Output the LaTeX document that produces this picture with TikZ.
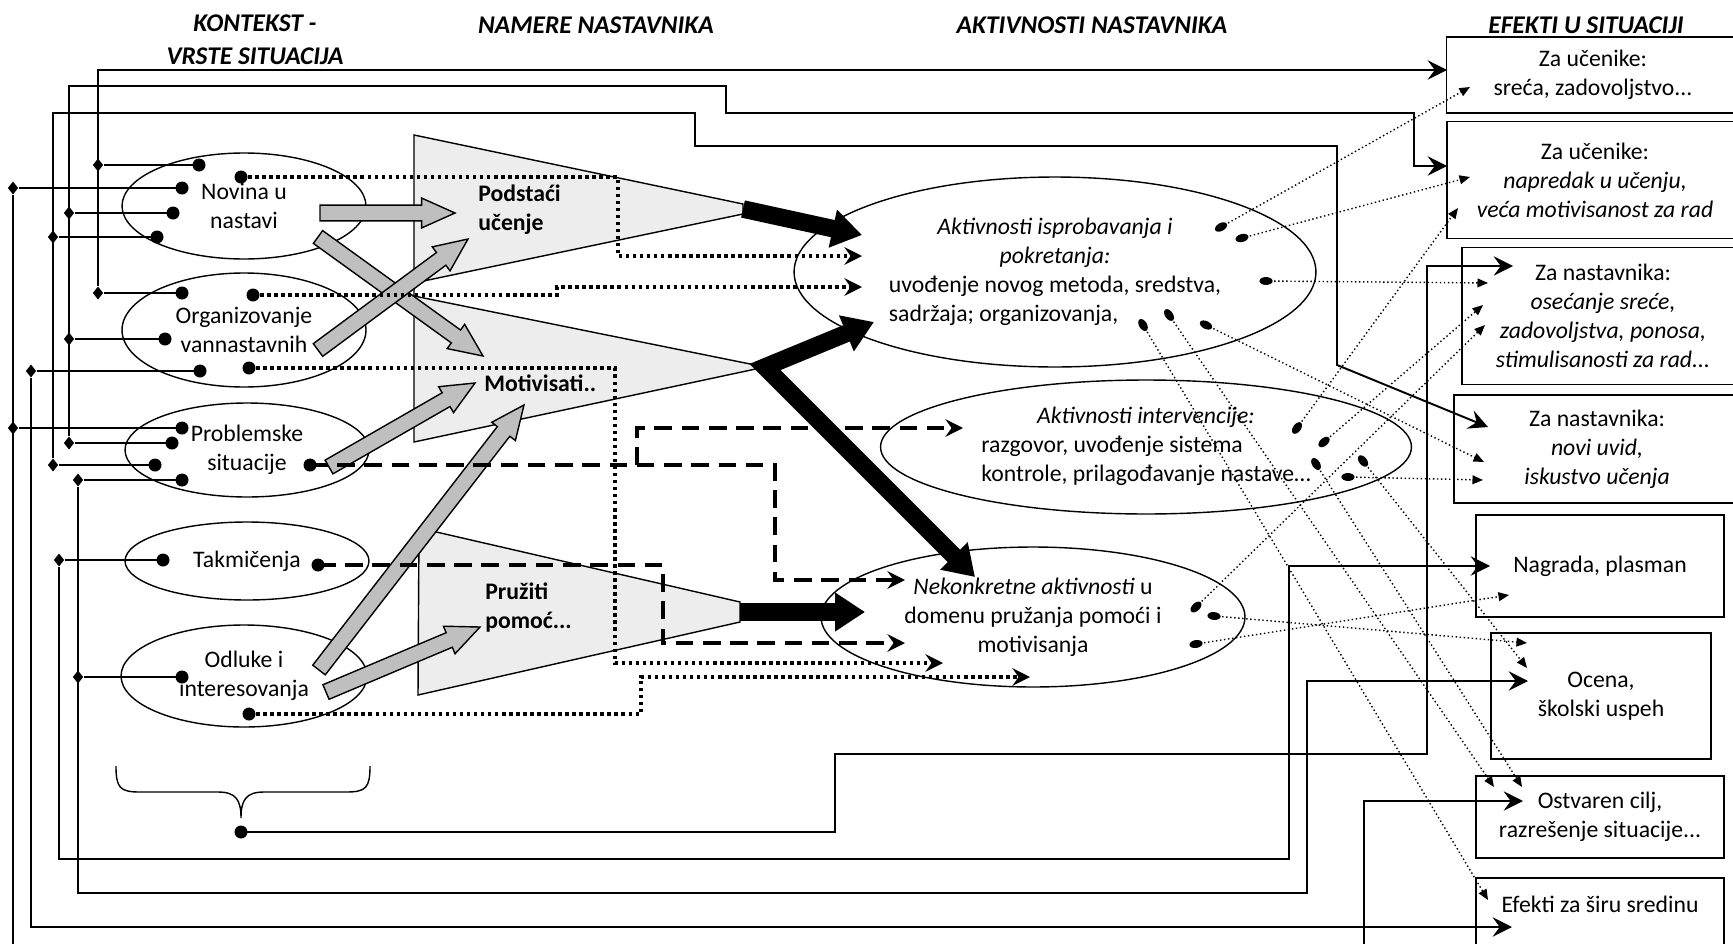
\documentclass[tikz,border=0pt]{standalone}
\usepackage{fontspec}
\setmainfont{Carlito}
\usetikzlibrary{arrows.meta,calc,shapes.geometric}

\tikzset{
  ctx/.style={draw, ellipse, line width=0.8pt, inner sep=0pt, align=center},
  act/.style={draw, ellipse, line width=0.8pt, inner sep=0pt},
  effbox/.style={draw, line width=1pt, inner sep=0pt, align=center},
  head/.style={font=\fontsize{14.5pt}{17pt}\selectfont\bfseries\itshape, align=center},
  aim/.style={font=\fontsize{13.5pt}{16.5pt}\selectfont\bfseries, align=left, anchor=west, inner sep=0pt},
  hub/.style={diamond, fill, inner sep=0pt, minimum width=6pt, minimum height=7.5pt},
  bus/.style={line width=1.1pt},
  busarrow/.style={bus, -{Stealth[length=11pt,width=11pt,inset=4pt]}},
  thickdot/.style={line width=2.2pt, dash pattern=on 2pt off 2pt, -{Stealth[length=10pt,width=10pt,inset=3.5pt]}},
  thickdash/.style={line width=2.2pt, dash pattern=on 10pt off 5.5pt, -{Stealth[length=10pt,width=10pt,inset=3.5pt]}},
  effect/.style={line width=0.8pt, dash pattern=on 0.8pt off 1.5pt, -{Triangle[length=6pt,width=5pt]}},
  actdot/.style={ellipse, fill, inner sep=0pt, minimum width=7.5pt, minimum height=4.5pt, sloped},
  bigarrow/.style={line width=10pt, line join=miter, -{Triangle[length=17pt,width=21pt]}},
  grayarrow/.style={fill=black!25, draw, line width=0.8pt, line join=miter},
  funnel/.style={fill=black!7, draw, line width=0.8pt},
}

\begin{document}
\begin{tikzpicture}[x=0.02cm, y=-0.02cm, font=\fontsize{13.5pt}{16.5pt}\selectfont]
  % Page
  \fill[white] (0,0) rectangle (1733,943);
  \path[use as bounding box] (0,0) rectangle (1733,943);
  \clip (0,0) rectangle (1733,943);

  % Column titles
  \node[head] (hkontekst) at (255,40) {KONTEKST -\\[2pt] VRSTE SITUACIJA};
  \node[head] (hnamere) at (596,25) {NAMERE NASTAVNIKA};
  \node[head] (haktivnosti) at (1092,25) {AKTIVNOSTI NASTAVNIKA};
  \node[head] (hefekti) at (1586,25) {EFEKTI U SITUACIJI};

  % Funnels of intentions
  \filldraw[funnel] (414,135) -- (743,204) -- (743,214) -- (414,283) -- (414,296) -- (765,367) -- (414,442) -- cycle;
  \filldraw[funnel] (419,528) -- (740,602) -- (740,622) -- (418,695) -- cycle;
  \node[aim] (podstaci) at (478,210) {Podstaći\\učenje};
  \node[aim] (motivisati) at (484,383) {Motivisati..};
  \node[aim] (pruziti) at (485,608) {Pružiti\\pomoć...};

  % Situations
  \node[ctx, minimum width=4.88cm, minimum height=2.12cm] (novina) at (244,206) {Novina u\\nastavi};
  \node[ctx, minimum width=4.88cm, minimum height=2.28cm] (organizovanje) at (244,330) {Organizovanje\\vannastavnih};
  \node[ctx, minimum width=4.88cm, minimum height=1.88cm] (problemske) at (247,450) {Problemske\\situacije};
  \node[ctx, minimum width=4.88cm, minimum height=1.56cm] (takmicenja) at (247,561) {Takmičenja};
  \node[ctx, minimum width=4.92cm, minimum height=2.04cm] (odluke) at (244,676) {Odluke i\\interesovanja};

  % Activities
  \node[act, minimum width=10.44cm, minimum height=3.8cm] (isprobavanje) at (1055,272)
    {\begin{tabular}{@{}l@{}}\multicolumn{1}{@{}c@{}}{\itshape Aktivnosti isprobavanja i}\\ \multicolumn{1}{@{}c@{}}{\itshape pokretanja:}\\ uvođenje novog metoda, sredstva,\\ sadržaja; organizovanja,\end{tabular}};
  \node[act, minimum width=10.62cm, minimum height=2.68cm] (intervencija) at (1146,447)
    {\begin{tabular}{@{}l@{}}\multicolumn{1}{@{}c@{}}{\itshape Aktivnosti intervencije:}\\ razgovor, uvođenje sistema\\ kontrole, prilagođavanje nastave…\end{tabular}};
  \node[act, minimum width=8.48cm, minimum height=2.8cm, align=center] (nekonkretne) at (1033,617)
    {\textit{Nekonkretne aktivnosti} u\\ domenu pružanja pomoći i\\ motivisanja};

  % Effects
  \node[effbox, minimum width=5.86cm, minimum height=1.52cm] (ucenici1) at (1593,75) {Za učenike:\\ sreća, zadovoljstvo...};
  \node[effbox, minimum width=5.92cm, minimum height=2.34cm] (ucenici2) at (1595,180) {Za učenike:\\ \textit{napredak u učenju,}\\ \textit{veća motivisanost za rad}};
  \node[effbox, minimum width=5.64cm, minimum height=2.74cm] (nastavnik1) at (1603,316) {Za nastavnika:\\ \textit{osećanje sreće,}\\ \textit{zadovoljstva, ponosa,}\\ \textit{stimulisanosti za rad...}};
  \node[effbox, minimum width=5.72cm, minimum height=2.16cm] (nastavnik2) at (1597,449) {Za nastavnika:\\ \textit{novi uvid,}\\ \textit{iskustvo učenja}};
  \node[effbox, minimum width=4.96cm, minimum height=2.04cm] (nagrada) at (1600,566) {Nagrada, plasman};
  \node[effbox, minimum width=4.4cm, minimum height=2.52cm] (ocena) at (1601,696) {Ocena,\\ školski uspeh};
  \node[effbox, minimum width=4.96cm, minimum height=1.64cm] (cilj) at (1600,817) {Ostvaren cilj,\\ razrešenje situacije...};
  \node[effbox, minimum width=4.96cm, minimum height=2.04cm, text depth=28pt] (sredina) at (1600,929) {Efekti za širu sredinu};

  % Brace under the situations
  \draw[line width=0.8pt] (116,766) .. controls (116,788) and (120,792) .. (140,792) -- (218,792)
    .. controls (236,792) and (241,800) .. (241,818) .. controls (241,800) and (246,792) .. (264,792)
    -- (346,792) .. controls (366,792) and (370,788) .. (370,766);

  % Dots in the situations
  \foreach \n/\x/\y in {nv1/199/165, nv2/241/177, nv3/182/188, nv4/173/213, nv5/157/237,
      og1/182/293, og2/253/295, og3/165/339, og4/200/371, og5/249/368,
      pr1/182/428, pr2/172/443, pr3/155/465, pr4/182/480, pr5/310/465,
      tk1/163/560, tk2/318/565, od1/182/677, od2/249/714, br/241/832}
    \coordinate (\n) at (\x,\y);

  % Hubs on the lines
  \foreach \n/\x/\y in {hA1/98/165, hA2/98/293, hL1/13/188, hL2/13/428, hB1/69/213, hB2/69/339, hB3/69/443,
      hC1/53/237, hC2/53/465, hD1/31/371, hE1/78/480, hE2/78/677, hF1/59/560}
    \node[hub] (\n) at (\x,\y) {};

  % Corners and ends of the lines
  \coordinate (tA) at (1447,70);
  \coordinate (kB1) at (726,86);  \coordinate (kB2) at (1414,113); \coordinate (tB) at (1447,166);
  \coordinate (kC1) at (695,113); \coordinate (kC2) at (1337,146); \coordinate (kC3) at (1337,365); \coordinate (tC) at (1488,427);
  \coordinate (tD) at (1512,927);
  \coordinate (kE) at (1307,893); \coordinate (tE) at (1528,681);
  \coordinate (kF) at (1289,859); \coordinate (tF) at (1490,566);
  \coordinate (kL) at (1364,960); \coordinate (tL) at (1523,801);
  \coordinate (kR1) at (835,754); \coordinate (kR2) at (1427,266); \coordinate (tR) at (1513,266);

  % Lines from situations to effects
  \foreach \h/\d in {hA1/nv1, hA2/og1, hL1/nv3, hL2/pr1, hB1/nv4, hB2/og3, hB3/pr2,
      hC1/nv5, hC2/pr3, hD1/og4, hE1/pr4, hE2/od1, hF1/tk1}
    \draw[bus] (\h) -- (\d);
  \draw[busarrow] (hA2) |- (tA);
  \draw[busarrow] (hB3) |- (kB1) |- (kB2) |- (tB);
  \draw[busarrow] (hC2) |- (kC1) |- (kC2) -- (kC3) -- (tC);
  \draw[busarrow] (hD1) |- (tD);
  \draw[busarrow] (hE1) |- (kE) |- (tE);
  \draw[busarrow] (hF1) |- (kF) |- (tF);
  \draw[busarrow] (hL1) |- (kL) |- (tL);
  \draw[busarrow] (br) -| (kR1) -| (kR2) -- (tR);

  % Arrows from situations to intentions
  \foreach \n/\x/\y in {gs1/320/213, gt1/455/213, gs2/318/237, gt2/483/356, gs3/318/350, gt3/468/239,
      gs4/329/467, gt4/475/383, gs5/319/670, gt5/524/405, gs6/326/692, gt6/480/627}
    \coordinate (\n) at (\x,\y);
  \foreach \a in {1,...,6} {
    \coordinate (gh) at ($(gt\a)!19pt!(gs\a)$);
    \filldraw[grayarrow] ($(gs\a)!4.5pt!90:(gt\a)$) -- ($(gh)!4.5pt!-90:(gs\a)$) -- ($(gh)!8.5pt!-90:(gs\a)$)
      -- (gt\a) -- ($(gh)!8.5pt!90:(gs\a)$) -- ($(gh)!4.5pt!90:(gs\a)$) -- ($(gs\a)!4.5pt!-90:(gt\a)$) -- cycle;
  }

  % Dotted and dashed links to activities
  \coordinate (kT1) at (618,256); \coordinate (eT1) at (862,256);
  \coordinate (kT2) at (557,287); \coordinate (eT2) at (862,287);
  \coordinate (kT3) at (615,663); \coordinate (eT3) at (943,663);
  \coordinate (kT4) at (641,677); \coordinate (eT4) at (1030,677);
  \coordinate (kD1) at (775,580); \coordinate (eD1) at (905,580);
  \coordinate (jD2) at (637,465); \coordinate (eD2) at (963,428);
  \coordinate (kD3) at (663,643); \coordinate (eD3) at (905,643);
  \draw[thickdot] (nv2) -| (kT1) -- (eT1);
  \draw[thickdot] (og2) -| (kT2) -- (eT2);
  \draw[thickdot] (og5) -| (kT3) -- (eT3);
  \draw[thickdot] (od2) -| (kT4) -- (eT4);
  \draw[thickdash] (pr5) -| (kD1) -- (eD1);
  \draw[thickdash] (jD2) |- (eD2);
  \draw[thickdash] (tk2) -| (kD3) -- (eD3);

  % Black arrows from intentions
  \coordinate (bs1) at (743,209); \coordinate (be1) at (862,235);
  \coordinate (ba2) at (874,322); \coordinate (bs2) at (765,367); \coordinate (bb2) at (975,577);
  \coordinate (bs3) at (740,612); \coordinate (be3) at (865,612);
  \draw[bigarrow] (bs1) -- (be1);
  \draw[bigarrow, {Triangle[length=17pt,width=21pt]}-{Triangle[length=17pt,width=21pt]}] (ba2) -- (bs2) -- (bb2);
  \draw[bigarrow] (bs3) -- (be3);

  % Links from activities to effects
  \foreach \s/\sx/\sy/\tx/\ty in {a1/1221/227/1470/87, a2/1242/238/1470/177, a3/1266/281/1488/283,
      a4/1206/325/1484/462, a5/1169/315/1494/787, a6/1143/325/1488/900,
      b1/1297/428/1458/208, b2/1324/442/1483/305, b3/1316/464/1522/787, b4/1363/461/1527/668, b5/1348/477/1483/480,
      c1/1196/607/1485/325, c2/1214/616/1527/643, c3/1196/644/1509/595} {
    \coordinate (\s) at (\sx,\sy);
    \coordinate (\s-t) at (\tx,\ty);
    \draw[effect] (\s) -- (\s-t) node[actdot, pos=0] (\s-dot) {};
  }

  % Dots for situations
  \foreach \d in {nv1,nv2,nv3,nv4,nv5,og1,og2,og3,og4,og5,pr1,pr2,pr3,pr4,pr5,tk1,tk2,od1,od2,br}
    \fill (\d) circle (3.7pt);
\end{tikzpicture}
\end{document}
